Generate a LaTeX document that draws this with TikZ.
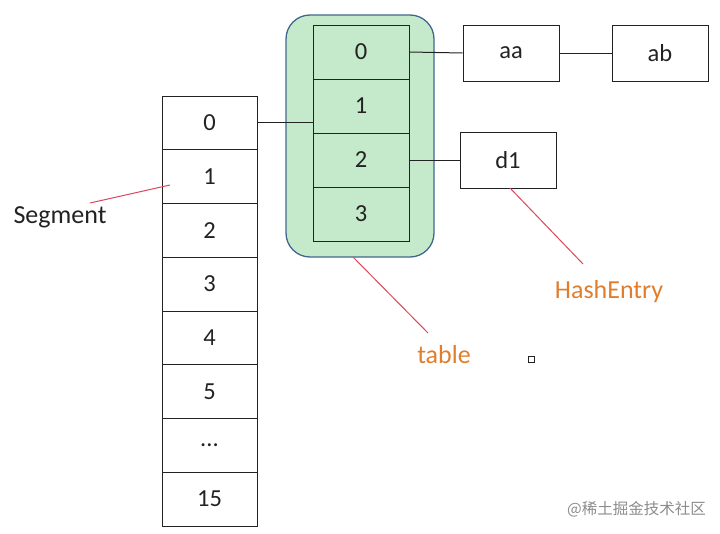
\documentclass[tikz,border=0pt]{standalone}
\usepackage{fontspec}
\setmainfont{Carlito}
\newfontfamily\cjk{Noto Sans CJK SC}
\definecolor{boxgreen}{HTML}{C5EACB}
\definecolor{boxblue}{HTML}{41678F}
\definecolor{redline}{HTML}{D9475A}
\definecolor{orangetxt}{HTML}{E07E2E}
\definecolor{ink}{HTML}{222222}
\begin{document}
\begin{tikzpicture}[x=1pt,y=-1pt,
  cell/.style={draw=ink,line width=1pt,minimum width=95pt,minimum height=53.75pt,inner sep=0pt,font=\fontsize{24.5}{28}\selectfont,text=ink},
  tcell/.style={cell,minimum width=96pt,minimum height=54pt},
  entry/.style={cell,minimum width=96pt,minimum height=56pt},
  conn/.style={draw=ink,line width=1pt},
  pointer/.style={draw=redline,line width=1pt},
  lbl/.style={font=\fontsize{26}{30}\selectfont,inner sep=0pt},
]
\useasboundingbox (0,0) rectangle (720,533);
% Segment array
\foreach \t [count=\i from 0] in {0,1,2,3,4,5} {
  \node[cell] (s\i) at (209.5,{96+53.75*(\i+0.5)}) {\t};
}
\node[cell] (s6) at (209.5,{96+53.75*6.5}) {...};
\node[cell] (s7) at (209.5,{96+53.75*7.5}) {15};
% table container
\node[draw=boxblue,fill=boxgreen,line width=1.3pt,rounded corners=24pt,minimum width=148pt,minimum height=242pt,inner sep=0pt] (tbl) at (360,136) {};
\foreach \t [count=\i from 0] in {0,1,2,3} {
  \node[tcell] (t\i) at (361,{25+54*(\i+0.5)}) {\t};
}
% entries
\node[entry] (aa) at (511,53) {aa};
\node[entry] (ab) at (660,53) {ab};
\node[entry] (d1) at (508,160) {d1};
% connectors
\draw[conn] (s0.east) -- (s0.east -| t0.west);
\draw[conn] (t0.east) -- (aa.west);
\draw[conn] (aa.east) -- (ab.west);
\draw[conn] (t2.east) -- (d1.west);
% labels
\node[lbl,text=ink] (seg) at (60,217) {Segment};
\node[lbl,text=orangetxt] (tab) at (444,355) {table};
\node[lbl,text=orangetxt] (he) at (609,292) {HashEntry};
\coordinate (segtip) at (170,185);
\coordinate (segtail) at (90,203);
\coordinate (tabtip) at (353,257);
\coordinate (tabtail) at (428,333);
\coordinate (hetip) at (510,188);
\coordinate (hetail) at (583,264);
\draw[pointer] (segtail) -- (segtip);
\draw[pointer] (tabtip) -- (tabtail);
\draw[pointer] (hetip) -- (hetail);
% small square
\draw[ink,line width=0.8pt] (528,356) rectangle (534,362);
% watermark
\node[font=\cjk\fontsize{15.5}{18}\selectfont,text=black!45,anchor=east,inner sep=0pt] (wm) at (706,509) {@稀土掘金技术社区};
\end{tikzpicture}
\end{document}
